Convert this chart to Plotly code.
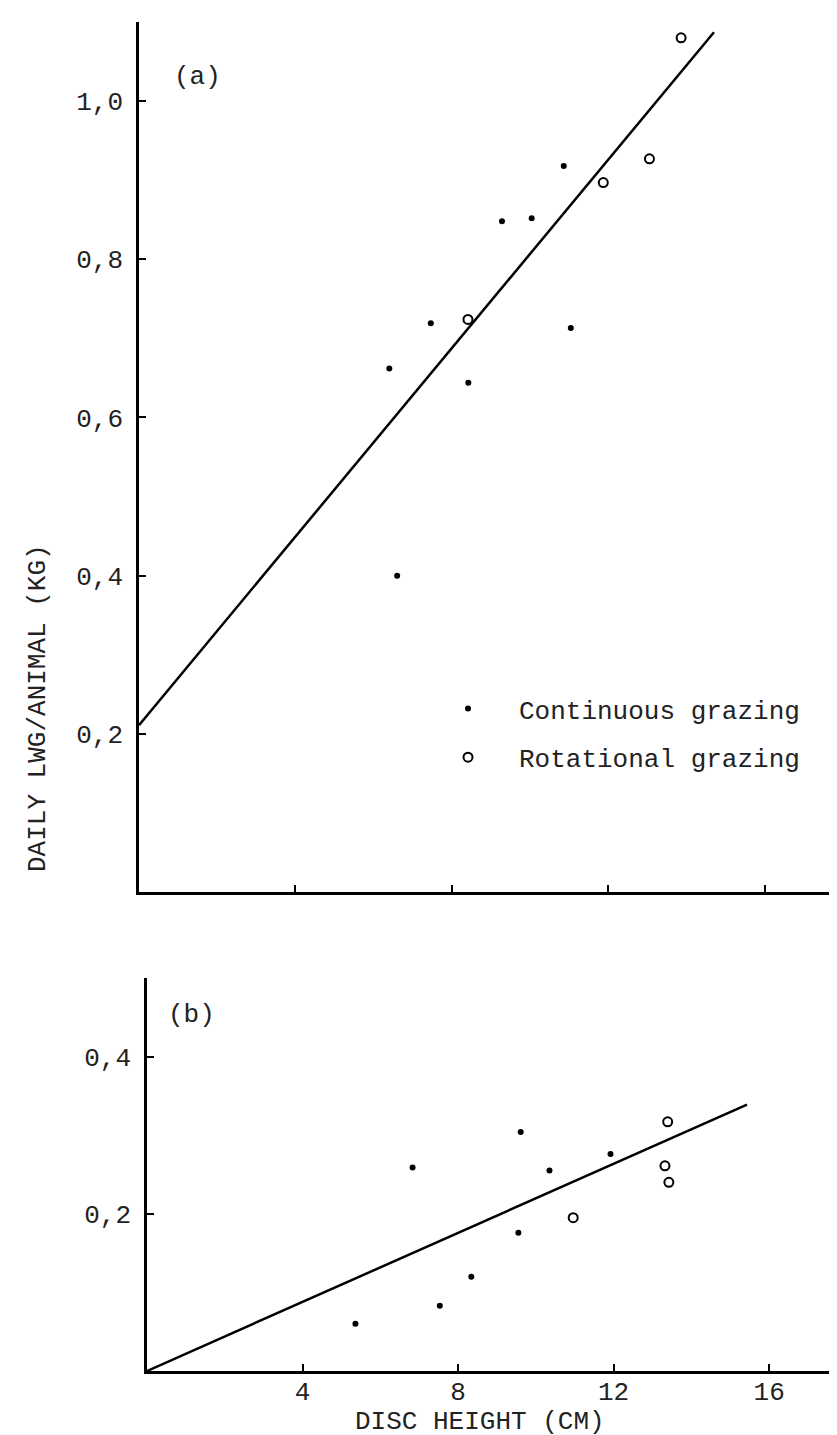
import plotly.graph_objects as go

# Painel (a) - ganho diário por animal
a_cont_x = [6.4, 6.6, 7.46, 8.42, 9.28, 10.04, 10.86, 11.04]
a_cont_y = [0.662, 0.40, 0.719, 0.644, 0.848, 0.852, 0.918, 0.713]
a_rot_x = [8.41, 11.87, 13.05, 13.86]
a_rot_y = [0.724, 0.897, 0.927, 1.08]
a_fit_x = [0, 14.7]
a_fit_y = [0.211, 1.087]

# Painel (b)
b_cont_x = [5.36, 6.83, 7.53, 8.34, 9.55, 9.61, 10.35, 11.92]
b_cont_y = [0.060, 0.259, 0.083, 0.120, 0.176, 0.304, 0.255, 0.276]
b_rot_x = [10.96, 13.32, 13.42, 13.39]
b_rot_y = [0.195, 0.261, 0.240, 0.317]
b_fit_x = [0, 15.43]
b_fit_y = [0, 0.339]

a_ticks = [0.2, 0.4, 0.6, 0.8, 1.0]
a_ticktext = ['0,2', '0,4', '0,6', '0,8', '1,0']
b_ticks = [0.2, 0.4]
b_ticktext = ['0,2', '0,4']
x_ticks = [4, 8, 12, 16]

FONTE = 'Liberation Mono, Courier New, monospace'
W, H = 837, 1435


def px_x(p):
    return p / W


def px_y(p):
    return 1 - p / H


def figura():
    fig = go.Figure()

    # Pontos e reta do painel (a)
    fig.add_trace(go.Scatter(x=a_cont_x, y=a_cont_y, mode='markers', name='Continuous grazing',
                             marker=dict(symbol='circle', size=6, color='black'),
                             legendgroup='c', xaxis='x', yaxis='y'))
    fig.add_trace(go.Scatter(x=a_rot_x, y=a_rot_y, mode='markers', name='Rotational grazing',
                             marker=dict(symbol='circle-open', size=9, color='black', line=dict(width=2)),
                             legendgroup='r', xaxis='x', yaxis='y'))
    fig.add_trace(go.Scatter(x=a_fit_x, y=a_fit_y, mode='lines', showlegend=False,
                             line=dict(color='black', width=2.5), xaxis='x', yaxis='y'))

    # Pontos e reta do painel (b)
    fig.add_trace(go.Scatter(x=b_cont_x, y=b_cont_y, mode='markers', showlegend=False,
                             marker=dict(symbol='circle', size=6, color='black'),
                             xaxis='x2', yaxis='y2'))
    fig.add_trace(go.Scatter(x=b_rot_x, y=b_rot_y, mode='markers', showlegend=False,
                             marker=dict(symbol='circle-open', size=9, color='black', line=dict(width=2)),
                             xaxis='x2', yaxis='y2'))
    fig.add_trace(go.Scatter(x=b_fit_x, y=b_fit_y, mode='lines', showlegend=False,
                             line=dict(color='black', width=2.5), xaxis='x2', yaxis='y2'))

    eixo = dict(showline=True, linecolor='black', linewidth=2.5, showgrid=False, zeroline=False,
                ticks='inside', ticklen=7, tickwidth=2, tickcolor='black',
                tickfont=dict(family=FONTE, size=26, color='#222'))

    fig.update_layout(
        width=W, height=H,
        margin=dict(l=0, r=0, t=0, b=0),
        paper_bgcolor='white', plot_bgcolor='white',
        font=dict(family=FONTE, size=26, color='#222'),
        xaxis=dict(eixo, domain=[px_x(131), 1], range=[0, 18.05], anchor='y',
                   tickvals=x_ticks, showticklabels=False),
        yaxis=dict(eixo, domain=[px_y(884), px_y(14)], range=[0, 1.1], anchor='x',
                   tickvals=a_ticks, ticktext=a_ticktext, ticklabelstandoff=8),
        xaxis2=dict(eixo, domain=[px_x(139), 1], range=[0, 17.95], anchor='y2',
                    tickvals=x_ticks, ticktext=[str(t) for t in x_ticks], ticklabelstandoff=-5),
        yaxis2=dict(eixo, domain=[px_y(1363), px_y(970)], range=[0, 0.5], anchor='x2',
                    tickvals=b_ticks, ticktext=b_ticktext, ticklabelstandoff=8),
        legend=dict(x=px_x(409), y=px_y(677), xanchor='left', yanchor='top',
                    font=dict(family=FONTE, size=26, color='#222'),
                    itemwidth=92, traceorder='grouped', tracegroupgap=12,
                    bgcolor='rgba(0,0,0,0)'),
        annotations=[
            dict(text='(a)', x=1.49, y=1.03, xref='x', yref='y', showarrow=False,
                 font=dict(family=FONTE, size=26, color='#222')),
            dict(text='(b)', x=1.14, y=0.453, xref='x2', yref='y2', showarrow=False,
                 font=dict(family=FONTE, size=26, color='#222')),
            dict(text='DAILY LWG/ANIMAL (KG)', x=px_x(30), y=px_y(700), xref='paper', yref='paper',
                 xanchor='center', yanchor='middle', textangle=-90, showarrow=False,
                 font=dict(family=FONTE, size=26, color='#222')),
            dict(text='DISC HEIGHT (CM)', x=px_x(472), y=px_y(1431), xref='paper', yref='paper',
                 xanchor='center', yanchor='bottom', showarrow=False,
                 font=dict(family=FONTE, size=26, color='#222')),
        ],
    )
    return fig


if __name__ == '__main__':
    fig = figura()
    fig.write_html('out.html')
